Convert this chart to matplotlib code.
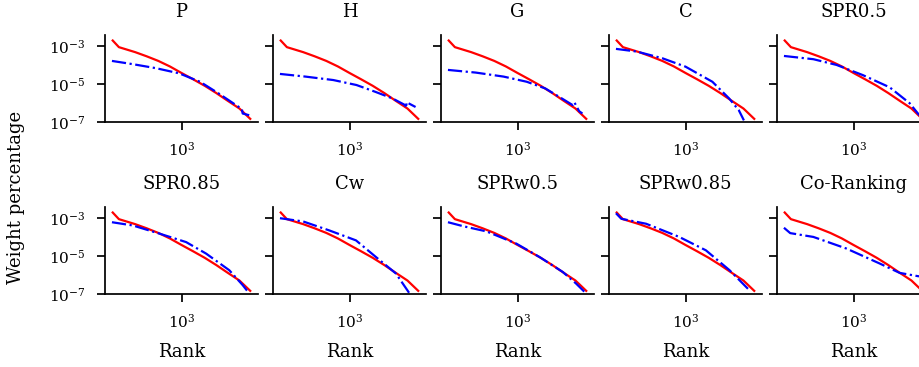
import numpy as np
import matplotlib
matplotlib.use("Agg")
import matplotlib.pyplot as plt

plt.rcParams['font.family'] = ['DejaVu Serif']
plt.rcParams['mathtext.fontset'] = 'dejavuserif'

titles = ["P", "H", "G", "C", "SPR0.5",
          "SPR0.85", "Cw", "SPRw0.5", "SPRw0.85", "Co-Ranking"]

# reference curve (red), log10 rank vs log10 weight, same in every panel
red_rank = [0, 0.3, 1, 1.5, 2, 2.5, 3, 3.5, 4, 4.5, 5, 5.5, 6]
red_w = [-2.68, -3.07, -3.33, -3.55, -3.79, -4.08, -4.42, -4.75, -5.09,
         -5.47, -5.88, -6.28, -6.86]

# method curves (blue), log10 rank / log10 weight
p_rank = [0, 0.9, 1.9, 2.9, 3.8, 4.6, 5.35, 5.6, 5.64, 5.92]
p_w = [-3.79, -3.96, -4.17, -4.44, -4.88, -5.49, -6.1, -6.3, -6.54, -6.63]
h_rank = [0, 1.1, 2.3, 3.3, 4.1, 4.85, 5.4, 5.45, 5.46, 5.85]
h_w = [-4.47, -4.61, -4.79, -5.05, -5.4, -5.75, -6.1, -6.25, -5.95, -6.2]
g_rank = [0, 1.2, 2.4, 3.4, 4.2, 4.8, 5.38, 5.45, 5.66, 5.8]
g_w = [-4.26, -4.4, -4.61, -4.88, -5.23, -5.67, -6.1, -5.95, -6.42, -6.54]
c_rank = [0, 0.9, 2.0, 3.0, 4.16, 4.88, 5.3, 5.52]
c_w = [-3.16, -3.3, -3.65, -4.09, -4.88, -5.75, -6.37, -6.9]
spr05_rank = [0, 1.27, 2.27, 3.4, 4.56, 5.42, 5.78, 6.0]
spr05_w = [-3.53, -3.7, -4.0, -4.53, -5.17, -6.0, -6.54, -6.8]
spr085_rank = [0, 0.9, 2.06, 3.2, 4.06, 5.06, 5.64, 5.86]
spr085_w = [-3.23, -3.4, -3.83, -4.27, -4.87, -5.74, -6.52, -6.86]
cw_rank = [0, 1.0, 2.13, 3.28, 4.14, 5.0, 5.57]
cw_w = [-3.02, -3.19, -3.66, -4.18, -5.05, -5.91, -6.92]
sprw05_rank = [0, 0.66, 1.66, 2.95, 3.95, 4.95, 5.52, 5.88]
sprw05_w = [-3.23, -3.44, -3.71, -4.35, -5.05, -5.83, -6.43, -6.86]
sprw085_rank = [0, 0.23, 1.3, 2.73, 3.88, 4.9, 5.75]
sprw085_w = [-2.76, -3.05, -3.31, -4.0, -4.7, -5.74, -6.78]
co_rank = [0, 0.27, 1.27, 2.7, 4.13, 4.99, 5.77, 6.0]
co_w = [-3.52, -3.8, -4.0, -4.61, -5.39, -5.88, -6.05, -6.08]

blue = [(p_rank, p_w), (h_rank, h_w), (g_rank, g_w), (c_rank, c_w),
        (spr05_rank, spr05_w), (spr085_rank, spr085_w), (cw_rank, cw_w),
        (sprw05_rank, sprw05_w), (sprw085_rank, sprw085_w), (co_rank, co_w)]

W, H = 919, 367
fig = plt.figure(figsize=(W / 100, H / 100), dpi=100)

ax_w, ax_h = 153, 87
lefts = [105, 273, 441, 609, 777]
bottoms = [122.3, 294.3]  # pixel from top

for i, name in enumerate(titles):
    r, c = divmod(i, 5)
    ax = fig.add_axes([lefts[c] / W, (H - bottoms[r]) / H, ax_w / W, ax_h / H])
    ax.plot(10.0 ** np.array(red_rank), 10.0 ** np.array(red_w),
            color='red', lw=1.6, solid_capstyle='butt')
    br, bw = blue[i]
    ax.plot(10.0 ** np.array(br), 10.0 ** np.array(bw),
            color='blue', lw=1.6, ls='-.')
    ax.set_xscale('log')
    ax.set_yscale('log')
    ax.set_xlim(10 ** -0.3, 10 ** 6.3)
    ax.set_ylim(1e-7, 10 ** -2.45)
    ax.set_xticks([1e3])
    ax.set_yticks([1e-3, 1e-5, 1e-7])
    ax.minorticks_off()
    for s in ['top', 'right']:
        ax.spines[s].set_visible(False)
    for s in ['left', 'bottom']:
        ax.spines[s].set_linewidth(1.25)
    ax.tick_params(width=1.25, length=6, labelsize=11)
    ax.tick_params(axis='x', pad=7)
    ax.tick_params(axis='y', pad=8)
    if c != 0:
        ax.set_yticklabels([])
    ax.set_title(name, fontsize=13, pad=13)
    if r == 1:
        ax.set_xlabel("Rank", fontsize=13, labelpad=9)

fig.text(16 / W, (H - 197) / H, "Weight percentage", rotation=90,
         fontsize=13, ha='center', va='center')

fig.savefig("out.png", dpi=100)
